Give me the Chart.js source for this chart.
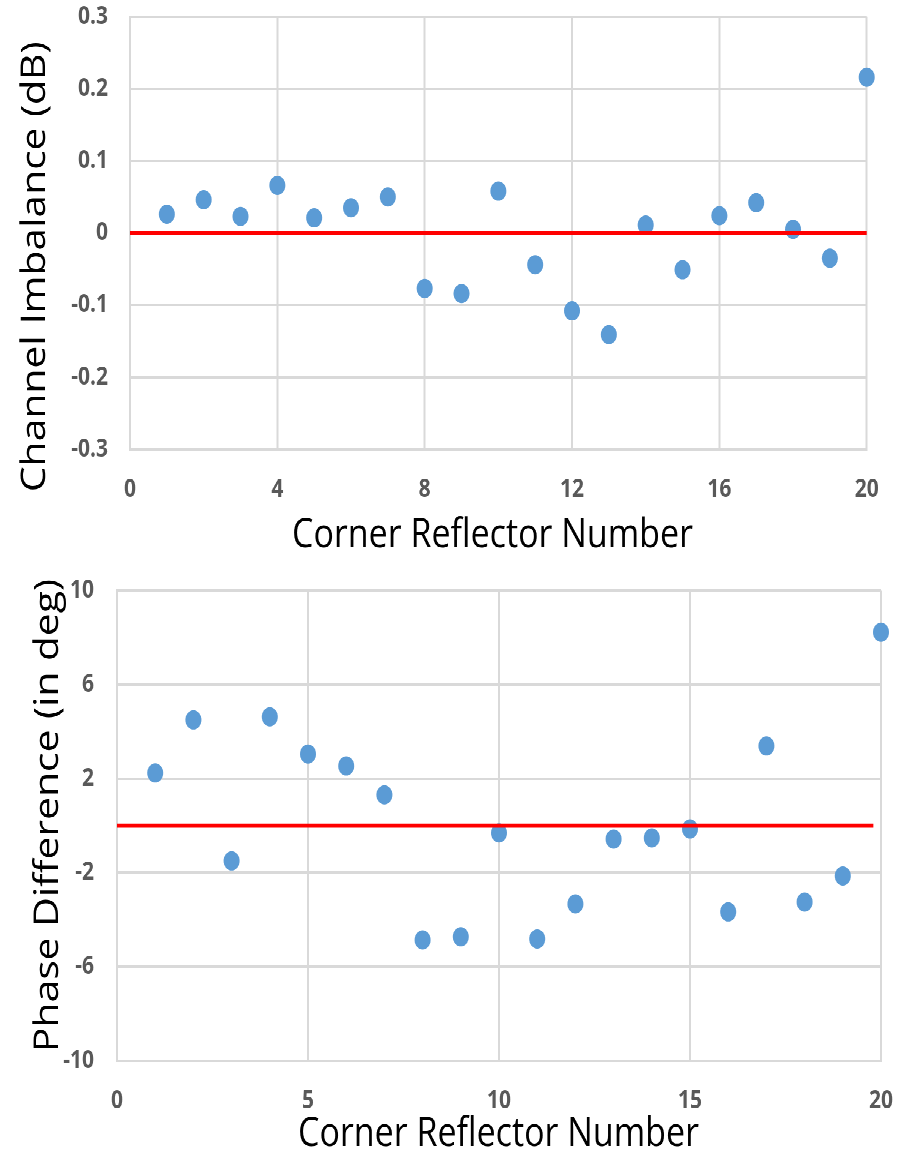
<!DOCTYPE html>
<html>
<head>
<meta charset="utf-8">
<script src="https://cdn.jsdelivr.net/npm/chart.js@4/dist/chart.umd.min.js"></script>
<style>
  html, body { margin: 0; padding: 0; background: #ffffff; }
  #stage { position: absolute; left: 0; top: 0; width: 897px; height: 959px;
           transform: scaleY(1.2); transform-origin: 0 0; }
  #c1 { position: absolute; left: 0; top: 0; }
  #c2 { position: absolute; left: 0; top: 467px; }
</style>
</head>
<body>
<div id="stage">
  <canvas id="c1" width="897" height="467"></canvas>
  <canvas id="c2" width="897" height="492"></canvas>
</div>
<script>
// ---------- data ----------
const reflectorNumbers = [1,2,3,4,5,6,7,8,9,10,11,12,13,14,15,16,17,18,19,20];
const channelImbalance = [0.026,0.046,0.023,0.066,0.021,0.035,0.050,-0.077,-0.084,0.058,
                          -0.044,-0.108,-0.141,0.011,-0.051,0.024,0.042,0.005,-0.035,0.216];
const phaseDifference = [2.24,4.5,-1.5,4.63,3.05,2.54,1.31,-4.86,-4.73,-0.31,
                         -4.82,-3.33,-0.57,-0.52,-0.14,-3.67,3.39,-3.25,-2.14,8.23];
const imbalanceRefX = [0, 20];
const imbalanceRefY = [0, 0];
const phaseRefX = [0, 19.8];
const phaseRefY = [0, 0];
const topXTicks = ['0','4','8','12','16','20'];
const topYTicks = ['-0.3','-0.2','-0.1','0','0.1','0.2','0.3'];
const botXTicks = ['0','5','10','15','20'];
const botYTicks = ['-10','-6','-2','2','6','10'];
const topXTitle = 'Corner Reflector Number';
const topYTitle = 'Channel Imbalance (dB)';
const botXTitle = 'Corner Reflector Number';
const botYTitle = 'Phase Difference (in deg)';

// ---------- styles ----------
const GRID = '#d9d9d9';
const TICK = '#595959';
const MARK = '#5b9bd5';
const tickFont = { family: '"Open Sans", sans-serif', size: 21, weight: 'bold' };
const titleFont = '34px "Open Sans", sans-serif';

const titlePlugin = {
  id: 'axisTitles',
  afterDraw(chart, args, opts) {
    const ctx = chart.ctx;
    (opts.items || []).forEach(it => {
      ctx.save();
      ctx.font = titleFont;
      ctx.fillStyle = '#000000';
      ctx.textBaseline = 'alphabetic';
      ctx.translate(it.x, it.y);
      if (it.rotate) ctx.rotate(-Math.PI / 2);
      ctx.textAlign = it.align;
      ctx.fillText(it.text, 0, 0);
      ctx.restore();
    });
  }
};

function zip(xs, ys) { return xs.map((x, i) => ({ x: x, y: ys[i] })); }
function noPad(s) { s.paddingTop = 0; s.paddingBottom = 0; s.paddingLeft = 0; s.paddingRight = 0; }

function makeChart(id, cfg) {
  return new Chart(document.getElementById(id), {
    type: 'scatter',
    data: {
      datasets: [
        {
          type: 'line',
          data: zip(cfg.refX, cfg.refY),
          borderColor: '#ff0000',
          borderWidth: 3.3,
          pointRadius: 0,
          fill: false,
          clip: false
        },
        {
          data: zip(reflectorNumbers, cfg.values),
          backgroundColor: MARK,
          borderColor: MARK,
          borderWidth: 0,
          pointRadius: 8,
          pointHoverRadius: 8,
          clip: false
        }
      ]
    },
    options: {
      responsive: false,
      animation: false,
      devicePixelRatio: 2,
      layout: { padding: { top: cfg.padTop, right: cfg.padRight, left: 0, bottom: 0 } },
      plugins: {
        legend: { display: false },
        tooltip: { enabled: false },
        axisTitles: { items: cfg.titles }
      },
      scales: {
        x: {
          type: 'linear', min: 0, max: 20,
          grid: { color: GRID, lineWidth: 2, drawTicks: false },
          border: { color: GRID, width: 2 },
          ticks: {
            stepSize: cfg.xStep, padding: 21, color: TICK, font: tickFont,
            maxRotation: 0, autoSkip: false,
            callback: (v, i) => cfg.xLabels[i]
          },
          afterFit: s => { s.height = cfg.xHeight; noPad(s); }
        },
        y: {
          type: 'linear', min: cfg.yMin, max: cfg.yMax,
          grid: { color: GRID, lineWidth: 2, drawTicks: false },
          border: { color: GRID, width: 2 },
          ticks: {
            stepSize: cfg.yStep, padding: cfg.yPad, color: TICK, font: tickFont,
            callback: (v, i) => cfg.yLabels[i]
          },
          afterFit: s => { s.width = cfg.yWidth; noPad(s); }
        }
      }
    },
    plugins: [titlePlugin]
  });
}

makeChart('c1', {
  values: channelImbalance, refX: imbalanceRefX, refY: imbalanceRefY,
  xStep: 4, yMin: -0.3, yMax: 0.3, yStep: 0.1,
  xLabels: topXTicks, yLabels: topYTicks,
  padTop: 13.9, padRight: 30.3, xHeight: 92.6, yWidth: 130, yPad: 22,
  titles: [
    { text: topXTitle, x: 492.5, y: 456, align: 'center', rotate: false },
    { text: topYTitle, x: 45, y: 410, align: 'left', rotate: true }
  ]
});

makeChart('c2', {
  values: phaseDifference, refX: phaseRefX, refY: phaseRefY,
  xStep: 5, yMin: -10, yMax: 10, yStep: 4,
  xLabels: botXTicks, yLabels: botYTicks,
  padTop: 25.2, padRight: 16, xHeight: 75.1, yWidth: 117, yPad: 23,
  titles: [
    { text: botXTitle, x: 498.5, y: 488, align: 'center', rotate: false },
    { text: botYTitle, x: 58, y: 409.7, align: 'left', rotate: true }
  ]
});
</script>
</body>
</html>
